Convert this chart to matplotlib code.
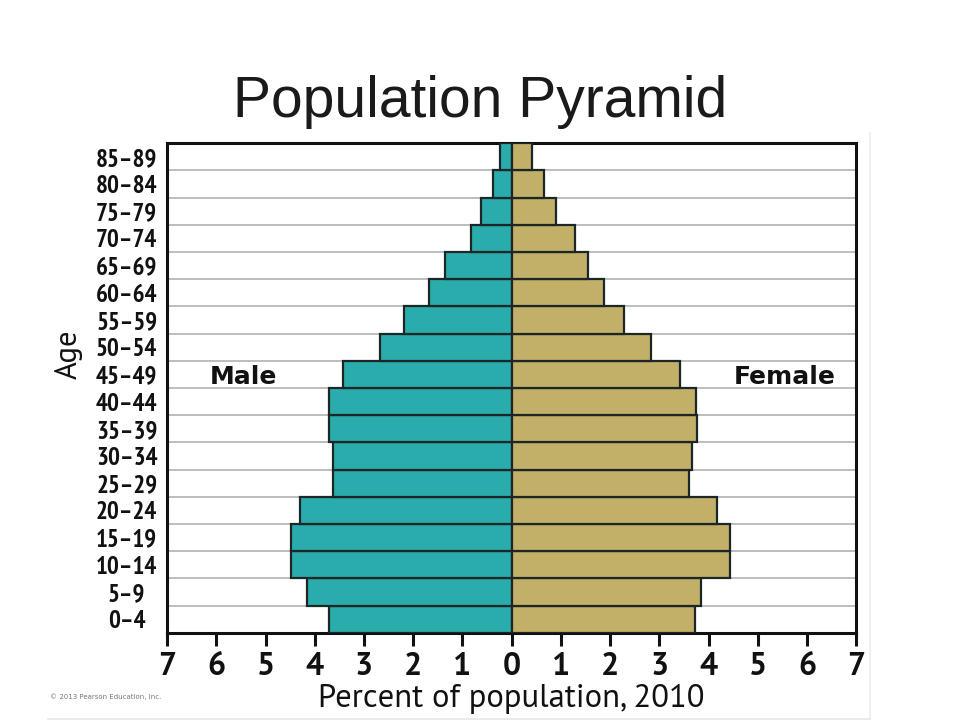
"""
Population pyramid, 2010 (percent of population by age group and sex).
"""

import matplotlib.pyplot as plt
import numpy as np

age_groups = [
    "0\u20134", "5\u20139", "10\u201314", "15\u201319", "20\u201324", "25\u201329",
    "30\u201334", "35\u201339", "40\u201344", "45\u201349", "50\u201354", "55\u201359",
    "60\u201364", "65\u201369", "70\u201374", "75\u201379", "80\u201384", "85\u201389",
]
male_pct = [3.71, 4.15, 4.48, 4.48, 4.30, 3.62, 3.62, 3.71, 3.71,
            3.43, 2.68, 2.18, 1.68, 1.35, 0.83, 0.63, 0.38, 0.23]
female_pct = [3.73, 3.84, 4.44, 4.44, 4.18, 3.60, 3.67, 3.77, 3.75,
              3.41, 2.83, 2.28, 1.88, 1.56, 1.28, 0.90, 0.65, 0.42]
x_ticks = list(range(-7, 8))

MALE_COLOR = "#2aacac"
FEMALE_COLOR = "#c3b068"
EDGE = "#1c2626"
INK = "#111111"
SANS = ["PT Sans", "DejaVu Sans"]
NARROW = ["PT Sans Narrow", "DejaVu Sans"]

fig = plt.figure(figsize=(9.6, 7.2), dpi=100)
ax = fig.add_axes([0.174, 0.121, 0.718, 0.680])

y = np.arange(len(age_groups))
ax.barh(y, -np.array(male_pct), height=1.0, color=MALE_COLOR,
        edgecolor=EDGE, linewidth=1.6, zorder=3)
ax.barh(y, female_pct, height=1.0, color=FEMALE_COLOR,
        edgecolor=EDGE, linewidth=1.6, zorder=3)

# row separators
for b in np.arange(0.5, len(age_groups) - 0.5, 1.0):
    ax.axhline(b, color="#b8b8b8", linewidth=1.3, zorder=1)

ax.set_xlim(-7, 7)
ax.set_ylim(-0.5, len(age_groups) - 0.5)
ax.set_xticks(x_ticks)
ax.set_xticklabels([str(abs(t)) for t in x_ticks], family=SANS,
                   fontsize=23, fontweight="bold")
ax.set_yticks(y)
# age labels are centred in their column
ax.set_yticklabels(age_groups, family=NARROW, fontsize=18, fontweight="bold", ha="center")
ax.tick_params(axis="x", direction="out", length=9, width=2.2, pad=5, colors=INK)
ax.tick_params(axis="y", length=0, pad=29, colors=INK)
for side in ax.spines.values():
    side.set_linewidth(2.2)
    side.set_color(INK)

ax.set_xlabel("Percent of population, 2010", family=SANS, fontsize=23.5,
              labelpad=1, color=INK)
ax.set_ylabel("Age", family=SANS, fontsize=22, color=INK)
ax.yaxis.set_label_coords(-0.123, 0.569)

ax.text(-6.13, 9, "Male", ha="left", va="center_baseline", fontsize=18,
        family="DejaVu Sans", fontweight="bold", color=INK, zorder=4)
ax.text(6.58, 9, "Female", ha="right", va="center_baseline", fontsize=18,
        family="DejaVu Sans", fontweight="bold", color=INK, zorder=4)

fig.text(0.5, 1 - 117 / 720, "Population Pyramid", ha="center", va="baseline",
         family=["Liberation Sans", "DejaVu Sans"], fontsize=41, color="#1a1a1a")
fig.text(0.052, 0.033, "\u00a9 2013 Pearson Education, Inc.", fontsize=5,
         color="#777777", ha="left", va="center")

# faint border of the pasted slide image
fig.add_artist(plt.Line2D([0.05, 0.906], [0.002, 0.002], color="#e6e6e6", linewidth=1.2))
fig.add_artist(plt.Line2D([0.906, 0.906], [0.002, 0.815], color="#ececec", linewidth=1.2))

fig.savefig("out.png", dpi=100)
